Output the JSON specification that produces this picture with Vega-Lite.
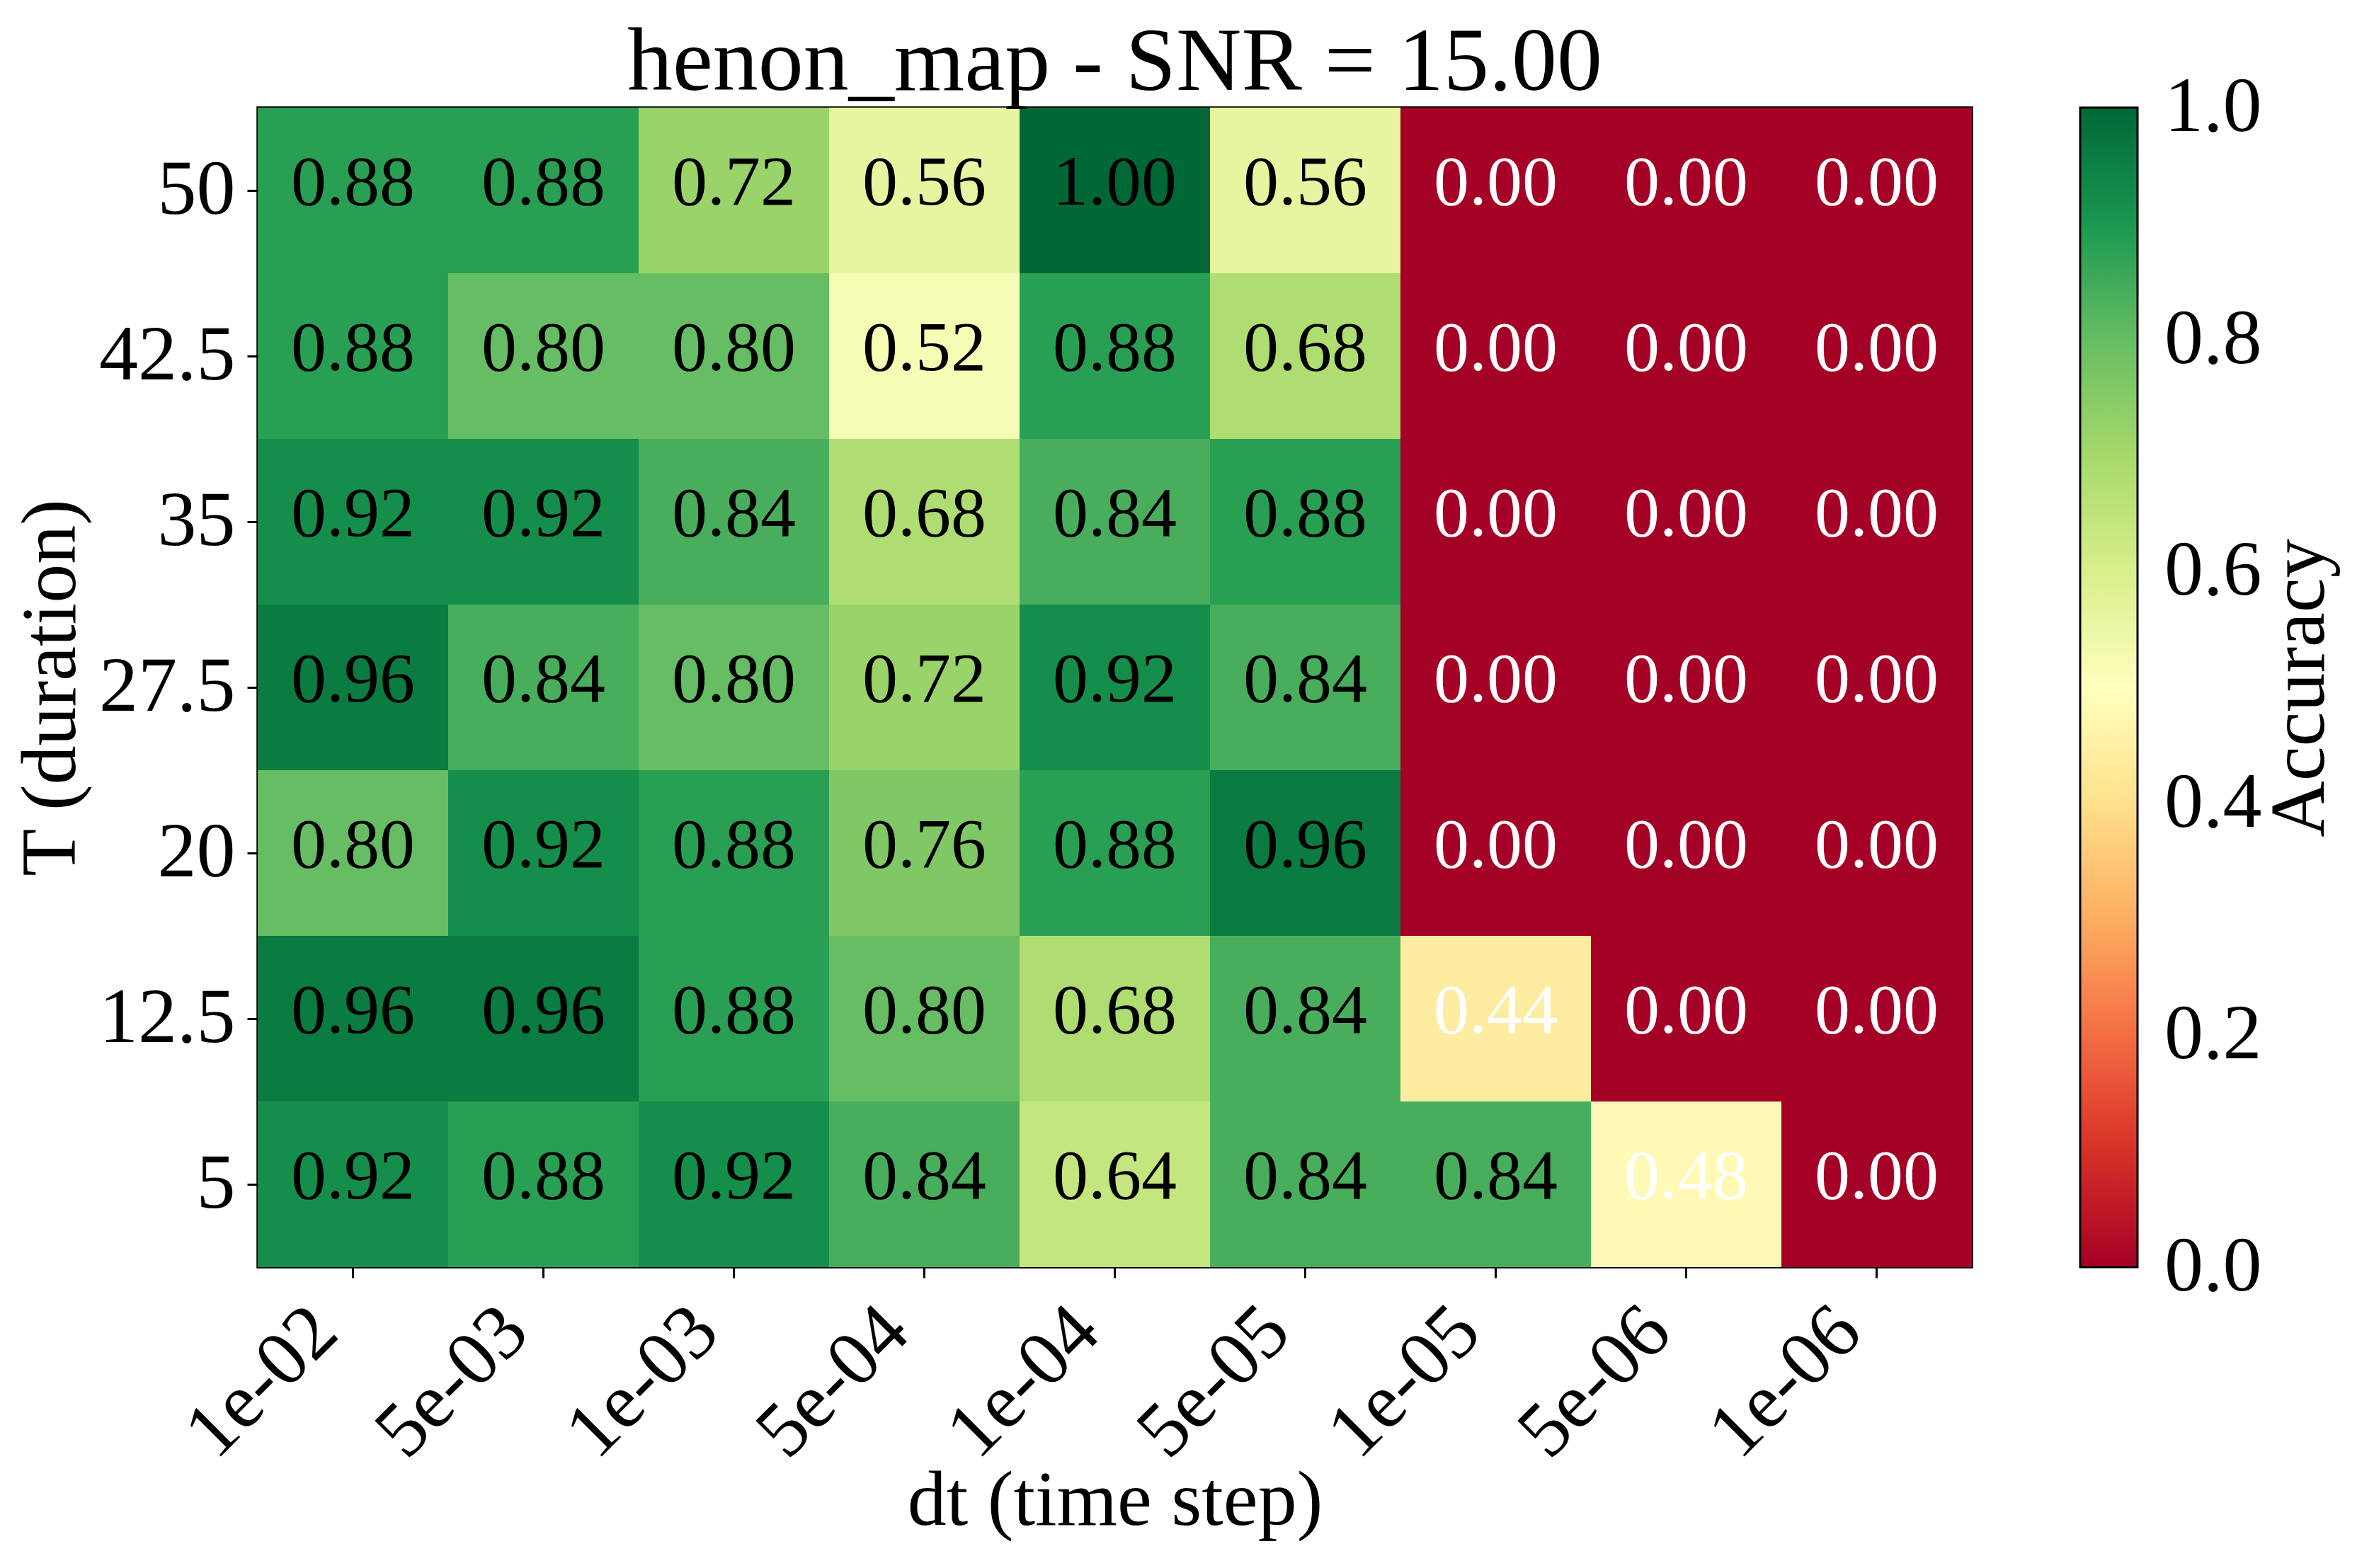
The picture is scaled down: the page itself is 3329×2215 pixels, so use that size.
{
  "$schema": "https://vega.github.io/schema/vega-lite/v6.json",
  "width": 2421,
  "height": 1638,
  "autosize": {"type": "none"},
  "padding": {"left": 364, "top": 152, "right": 544, "bottom": 425},
  "background": "white",
  "title": {"text": "henon_map - SNR = 15.00", "font": "Liberation Serif", "fontSize": 128, "fontWeight": "normal", "anchor": "middle", "offset": -2, "color": "black", "limit": 0},
  "config": {"view": {"stroke": "black", "strokeWidth": 3.5}, "font": "Liberation Serif"},
  "data": {"values": [
    {"T": "50", "dt": "1e-02", "acc": 0.88}, {"T": "50", "dt": "5e-03", "acc": 0.88}, {"T": "50", "dt": "1e-03", "acc": 0.72}, {"T": "50", "dt": "5e-04", "acc": 0.56}, {"T": "50", "dt": "1e-04", "acc": 1.00}, {"T": "50", "dt": "5e-05", "acc": 0.56}, {"T": "50", "dt": "1e-05", "acc": 0.0}, {"T": "50", "dt": "5e-06", "acc": 0.0}, {"T": "50", "dt": "1e-06", "acc": 0.0},
    {"T": "42.5", "dt": "1e-02", "acc": 0.88}, {"T": "42.5", "dt": "5e-03", "acc": 0.80}, {"T": "42.5", "dt": "1e-03", "acc": 0.80}, {"T": "42.5", "dt": "5e-04", "acc": 0.52}, {"T": "42.5", "dt": "1e-04", "acc": 0.88}, {"T": "42.5", "dt": "5e-05", "acc": 0.68}, {"T": "42.5", "dt": "1e-05", "acc": 0.0}, {"T": "42.5", "dt": "5e-06", "acc": 0.0}, {"T": "42.5", "dt": "1e-06", "acc": 0.0},
    {"T": "35", "dt": "1e-02", "acc": 0.92}, {"T": "35", "dt": "5e-03", "acc": 0.92}, {"T": "35", "dt": "1e-03", "acc": 0.84}, {"T": "35", "dt": "5e-04", "acc": 0.68}, {"T": "35", "dt": "1e-04", "acc": 0.84}, {"T": "35", "dt": "5e-05", "acc": 0.88}, {"T": "35", "dt": "1e-05", "acc": 0.0}, {"T": "35", "dt": "5e-06", "acc": 0.0}, {"T": "35", "dt": "1e-06", "acc": 0.0},
    {"T": "27.5", "dt": "1e-02", "acc": 0.96}, {"T": "27.5", "dt": "5e-03", "acc": 0.84}, {"T": "27.5", "dt": "1e-03", "acc": 0.80}, {"T": "27.5", "dt": "5e-04", "acc": 0.72}, {"T": "27.5", "dt": "1e-04", "acc": 0.92}, {"T": "27.5", "dt": "5e-05", "acc": 0.84}, {"T": "27.5", "dt": "1e-05", "acc": 0.0}, {"T": "27.5", "dt": "5e-06", "acc": 0.0}, {"T": "27.5", "dt": "1e-06", "acc": 0.0},
    {"T": "20", "dt": "1e-02", "acc": 0.80}, {"T": "20", "dt": "5e-03", "acc": 0.92}, {"T": "20", "dt": "1e-03", "acc": 0.88}, {"T": "20", "dt": "5e-04", "acc": 0.76}, {"T": "20", "dt": "1e-04", "acc": 0.88}, {"T": "20", "dt": "5e-05", "acc": 0.96}, {"T": "20", "dt": "1e-05", "acc": 0.0}, {"T": "20", "dt": "5e-06", "acc": 0.0}, {"T": "20", "dt": "1e-06", "acc": 0.0},
    {"T": "12.5", "dt": "1e-02", "acc": 0.96}, {"T": "12.5", "dt": "5e-03", "acc": 0.96}, {"T": "12.5", "dt": "1e-03", "acc": 0.88}, {"T": "12.5", "dt": "5e-04", "acc": 0.80}, {"T": "12.5", "dt": "1e-04", "acc": 0.68}, {"T": "12.5", "dt": "5e-05", "acc": 0.84}, {"T": "12.5", "dt": "1e-05", "acc": 0.44}, {"T": "12.5", "dt": "5e-06", "acc": 0.0}, {"T": "12.5", "dt": "1e-06", "acc": 0.0},
    {"T": "5", "dt": "1e-02", "acc": 0.92}, {"T": "5", "dt": "5e-03", "acc": 0.88}, {"T": "5", "dt": "1e-03", "acc": 0.92}, {"T": "5", "dt": "5e-04", "acc": 0.84}, {"T": "5", "dt": "1e-04", "acc": 0.64}, {"T": "5", "dt": "5e-05", "acc": 0.84}, {"T": "5", "dt": "1e-05", "acc": 0.84}, {"T": "5", "dt": "5e-06", "acc": 0.48}, {"T": "5", "dt": "1e-06", "acc": 0.0}
  ]},
  "encoding": {
    "x": {"field": "dt", "type": "nominal", "sort": ["1e-02", "5e-03", "1e-03", "5e-04", "1e-04", "5e-05", "1e-05", "5e-06", "1e-06"],
      "scale": {"paddingInner": 0, "paddingOuter": 0},
      "axis": {"title": "dt (time step)", "titleFont": "Liberation Serif", "titleFontSize": 110, "titleFontWeight": "normal", "titleColor": "black", "titlePadding": 76, "titleLimit": 0,
        "labelAngle": -45, "labelAlign": "right", "labelBaseline": "top", "labelFont": "Liberation Serif", "labelFontSize": 110, "labelColor": "black", "labelPadding": 20, "labelOffset": -78, "labelLimit": 0,
        "labelOverlap": false, "labelBound": false, "labelFlush": false,
        "tickSize": 15, "tickWidth": 3, "tickColor": "black", "domain": false, "grid": false}},
    "y": {"field": "T", "type": "nominal", "sort": ["50", "42.5", "35", "27.5", "20", "12.5", "5"],
      "scale": {"paddingInner": 0, "paddingOuter": 0},
      "axis": {"title": "T (duration)", "titleFont": "Liberation Serif", "titleFontSize": 110, "titleFontWeight": "normal", "titleColor": "black", "titlePadding": 36, "titleLimit": 0,
        "labelAngle": 0, "labelFont": "Liberation Serif", "labelFontSize": 110, "labelColor": "black", "labelPadding": 17, "labelLimit": 0,
        "labelOverlap": false, "labelBound": false, "labelFlush": false,
        "tickSize": 15, "tickWidth": 3, "tickColor": "black", "domain": false, "grid": false}}
  },
  "layer": [
    {"mark": {"type": "rect"},
     "encoding": {"color": {"field": "acc", "type": "quantitative",
       "scale": {"domain": [0, 0.1, 0.2, 0.3, 0.4, 0.5, 0.6, 0.7, 0.8, 0.9, 1.0],
                 "range": ["#a50026", "#d73027", "#f46d43", "#fdae61", "#fee08b", "#ffffbf", "#d9ef8b", "#a6d96a", "#66bd63", "#1a9850", "#006837"],
                 "interpolate": "rgb"},
       "legend": {"orient": "none", "legendX": 2574, "legendY": 0, "direction": "vertical", "type": "gradient",
         "gradientLength": 1638, "gradientThickness": 81, "gradientStrokeColor": "black", "gradientStrokeWidth": 3,
         "values": [0, 0.2, 0.4, 0.6, 0.8, 1.0], "format": ".1f",
         "labelFont": "Liberation Serif", "labelFontSize": 110, "labelColor": "black", "labelOffset": 38, "labelBaseline": "middle", "labelOverlap": false, "labelLimit": 0,
         "title": "Accuracy", "titleOrient": "right", "titleAngle": 270, "titleFont": "Liberation Serif", "titleFontSize": 110, "titleFontWeight": "normal", "titleColor": "black", "titlePadding": 110, "titleAnchor": "middle", "titleLimit": 0,
         "encode": {"labels": {"update": {"baseline": {"value": "middle"}}}, "title": {"update": {"angle": {"value": 270}}}}}}}},
    {"mark": {"type": "text", "fontSize": 100, "font": "Liberation Serif", "dy": -10},
     "encoding": {"text": {"field": "acc", "type": "quantitative", "format": ".2f"},
       "color": {"condition": {"test": "datum.acc < 0.5", "value": "white"}, "value": "black"}}}
  ]
}
